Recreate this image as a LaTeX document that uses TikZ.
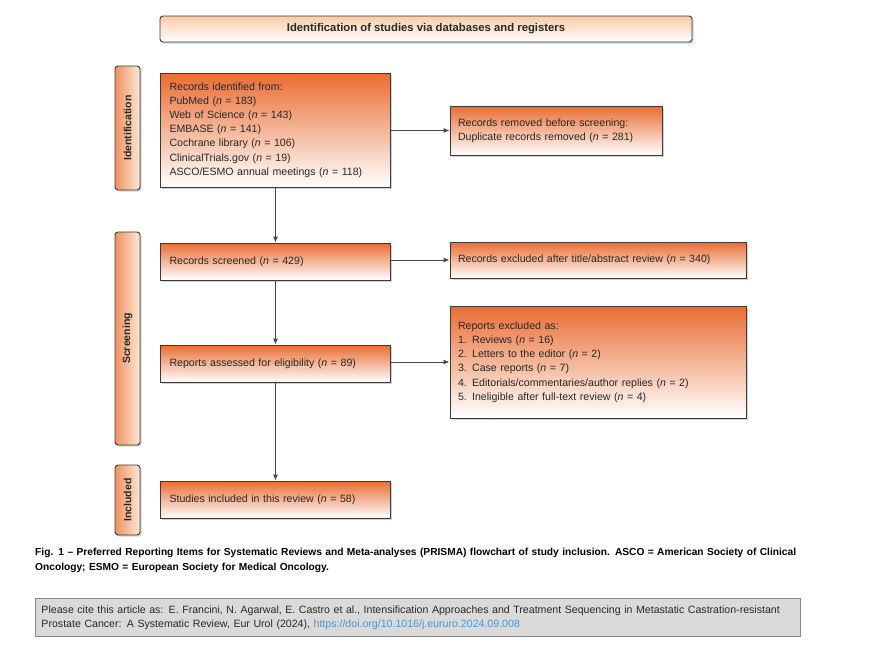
\documentclass[tikz,border=0pt]{standalone}
\usepackage{fontspec}
\setmainfont{Liberation Sans}
\usetikzlibrary{arrows.meta,positioning,shadows}
\definecolor{prismaOrange}{RGB}{234,108,50}
\definecolor{prismaPeach}{RGB}{248,204,166}
\definecolor{prismaSide}{RGB}{240,146,96}
\definecolor{prismaLine}{RGB}{58,58,58}
\definecolor{prismaArrow}{RGB}{72,72,72}
\definecolor{prismaText}{RGB}{40,40,40}
\definecolor{citeGray}{RGB}{218,218,218}
\definecolor{citeBorder}{RGB}{138,138,138}
\definecolor{citeBlue}{RGB}{72,150,212}

\tikzset{
  flowbox/.style={draw=prismaLine, line width=0.9pt, top color=prismaOrange, bottom color=white,
    drop shadow={shadow xshift=1.5pt, shadow yshift=-1.5pt, opacity=0.35},
    align=left, inner xsep=9pt, text=prismaText, font=\fontsize{10.6}{14.2}\selectfont},
  sidebox/.style={draw=prismaLine, line width=0.9pt, rounded corners=3pt, minimum width=25pt,
    left color=prismaSide, right color=prismaPeach!45,
    drop shadow={shadow xshift=1.5pt, shadow yshift=-1.5pt, opacity=0.35},
    text=prismaText, font=\fontsize{10.5}{11}\selectfont\bfseries},
  flowarrow/.style={draw=prismaArrow, line width=1pt, -{Latex[length=6pt,width=5pt]}}
}

\begin{document}
\begin{tikzpicture}[x=1pt, y=-1pt]
\useasboundingbox (0,0) rectangle (871,645);

\node[draw=prismaLine, line width=0.9pt, rounded corners=3pt, top color=prismaPeach, bottom color=white,
  drop shadow={shadow xshift=1.5pt, shadow yshift=-1.5pt, opacity=0.35},
  minimum width=532pt, minimum height=26pt, text=prismaText, font=\fontsize{11.3}{12}\selectfont\bfseries]
  (header) at (426,29) {Identification of studies via databases and registers};

\node[sidebox, minimum height=124pt] (identlab) at (127.5,128) {\rotatebox{90}{Identification}};
\node[sidebox, minimum height=213pt] (screenlab) at (127.5,338.5) {\rotatebox{90}{Screening}};
\node[sidebox, minimum height=70pt] (inclab) at (127.5,500) {\rotatebox{90}{Included}};

\node[flowbox, text width=212pt, minimum height=114pt] (ident) at (275.5,130) {Records identified from:\\
PubMed (\textit{n} = 183)\\
Web of Science (\textit{n} = 143)\\
EMBASE (\textit{n} = 141)\\
Cochrane library (\textit{n} = 106)\\
ClinicalTrials.gov (\textit{n} = 19)\\
ASCO/ESMO annual meetings (\textit{n} = 118)};

\node[flowbox, text width=212pt, minimum height=37pt] (screened) at (275.5,261.5) {Records screened (\textit{n} = 429)};
\node[flowbox, text width=212pt, minimum height=37pt] (assessed) at (275.5,363.5) {Reports assessed for eligibility (\textit{n} = 89)};
\node[flowbox, text width=212pt, minimum height=37pt] (included) at (275.5,499.5) {Studies included in this review (\textit{n} = 58)};

\node[flowbox, inner xsep=8pt, text width=196pt, minimum height=49pt] (removed) at (556,130.5) {Records removed before screening:\\
Duplicate records removed (\textit{n} = 281)};
\node[flowbox, inner xsep=8pt, text width=280pt, minimum height=36pt] (excluded) at (598,260) {Records excluded after title/abstract review (\textit{n} = 340)};
\node[flowbox, inner xsep=8pt, text width=280pt, minimum height=112pt] (repexcl) at (598,362) {Reports excluded as:\\
1. Reviews (\textit{n} = 16)\\
2. Letters to the editor (\textit{n} = 2)\\
3. Case reports (\textit{n} = 7)\\
4. Editorials/commentaries/author replies (\textit{n} = 2)\\
5. Ineligible after full-text review (\textit{n} = 4)};

\draw[flowarrow] (ident.south) -- (screened.north);
\draw[flowarrow] (screened.south) -- (assessed.north);
\draw[flowarrow] (assessed.south) -- (included.north);
\draw[flowarrow] (ident.east |- removed.west) -- (removed.west);
\draw[flowarrow] (screened.east |- excluded.west) -- (excluded.west);
\draw[flowarrow] (assessed.east |- repexcl.west) -- (repexcl.west);

\node[anchor=north west, inner sep=0pt, text width=775pt, align=left, text=black,
  font=\fontsize{10.2}{15}\selectfont\bfseries] (caption) at (35,548)
  {Fig. 1 -- Preferred Reporting Items for Systematic Reviews and Meta-analyses (PRISMA) flowchart of study inclusion. ASCO = American Society of Clinical\\
  Oncology; ESMO = European Society for Medical Oncology.};

\node[draw=citeBorder, line width=1pt, fill=citeGray, anchor=north west, minimum width=765pt, minimum height=38pt,
  inner xsep=6pt, inner ysep=2pt, text width=753pt, align=left, text=prismaText, font=\fontsize{10.6}{14}\selectfont] (cite) at (35,598)
  {Please cite this article as: E. Francini, N. Agarwal, E. Castro et al., Intensification Approaches and Treatment Sequencing in Metastatic Castration-resistant\\
  Prostate Cancer: A Systematic Review, Eur Urol (2024), \textcolor{citeBlue}{https://doi.org/10.1016/j.eururo.2024.09.008}};
\end{tikzpicture}
\end{document}
